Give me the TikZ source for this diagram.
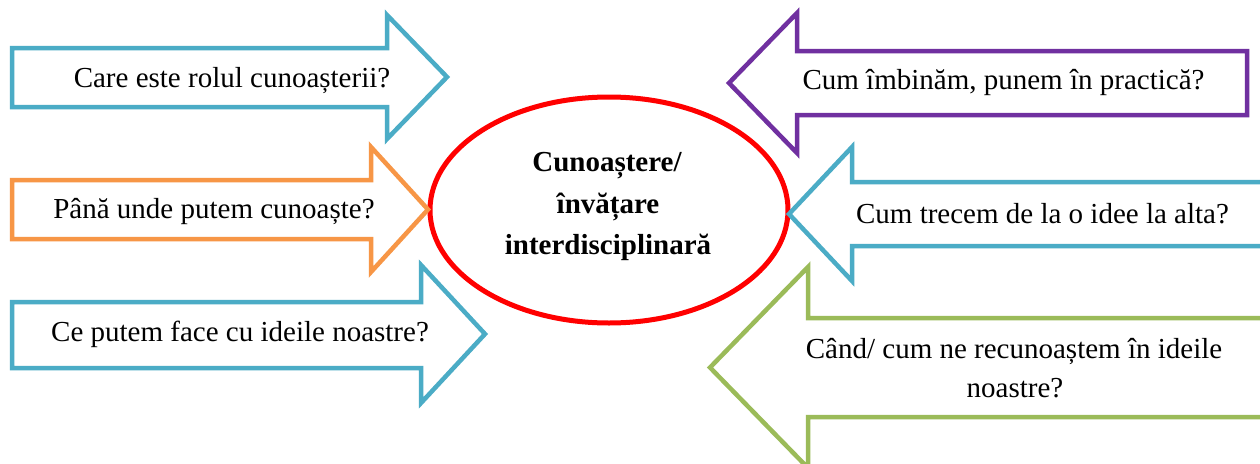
\documentclass[tikz,border=0pt]{standalone}
\usepackage{fontspec}
\setmainfont{Liberation Serif}
\usetikzlibrary{shapes.geometric}

\definecolor{qteal}{HTML}{4BACC6}
\definecolor{qorange}{HTML}{F79646}
\definecolor{qpurple}{HTML}{7030A0}
\definecolor{qgreen}{HTML}{9BBB59}

\tikzset{
  blockarrow/.style={draw=#1, line width=4.5pt, fill=white, line join=miter},
  qtext/.style={anchor=base, inner sep=0pt, font=\fontsize{29}{40}\selectfont},
  coretext/.style={anchor=base, inner sep=0pt, font=\fontsize{29}{40}\selectfont\bfseries},
  core/.style={draw=red, line width=5pt, ellipse, minimum width=358pt,
               minimum height=226pt, inner sep=0pt, outer sep=0pt}
}

\begin{document}
\begin{tikzpicture}[x=1pt,y=-1pt]
\useasboundingbox (0,0) rectangle (1260,463);
\clip (0,0) rectangle (1260,463);
\fill[white] (0,0) rectangle (1260,463);

% central ellipse
\node[core] (core) at (609,210) {};
\node[coretext] (core1) at (607,171.5) {Cunoaștere/};
\node[coretext] (core2) at (608,213.5) {învățare};
\node[coretext] (core3) at (608,254) {interdisciplinară};

% arrows pointing right, towards the ellipse
\draw[blockarrow=qteal] (12,48) -- (387,48) -- (387,15) -- (447,77)
  -- (387,139) -- (387,107) -- (12,107) -- cycle;
\draw[blockarrow=qorange] (12,180) -- (371,180) -- (371,147) -- (428,209.5)
  -- (371,272) -- (371,239) -- (12,239) -- cycle;
\draw[blockarrow=qteal] (12,302) -- (421,302) -- (421,265) -- (485,334)
  -- (421,403) -- (421,368) -- (12,368) -- cycle;

% arrows pointing left, towards the ellipse
\draw[blockarrow=qpurple] (1247,51) -- (797,51) -- (797,13) -- (729,83)
  -- (797,153) -- (797,115) -- (1247,115) -- cycle;
\draw[blockarrow=qteal] (1290,182) -- (852,182) -- (852,147) -- (789,214)
  -- (852,281) -- (852,246) -- (1290,246);
\draw[blockarrow=qgreen] (1290,318) -- (808,318) -- (808,267) -- (710,367.5)
  -- (808,468) -- (808,417) -- (1290,417);

% questions
\node[qtext] (q1) at (232,87) {Care este rolul cunoașterii?};
\node[qtext] (q2) at (214,218.5) {Până unde putem cunoaște?};
\node[qtext] (q3) at (240,341) {Ce putem face cu ideile noastre?};
\node[qtext] (q4) at (1003.5,89.5) {Cum îmbinăm, punem în practică?};
\node[qtext] (q5) at (1042.5,223.5) {Cum trecem de la o idee la alta?};
\node[qtext] (q6a) at (1014,358) {Când/ cum ne recunoaștem în ideile};
\node[qtext] (q6b) at (1015,397) {noastre?};
\end{tikzpicture}
\end{document}
